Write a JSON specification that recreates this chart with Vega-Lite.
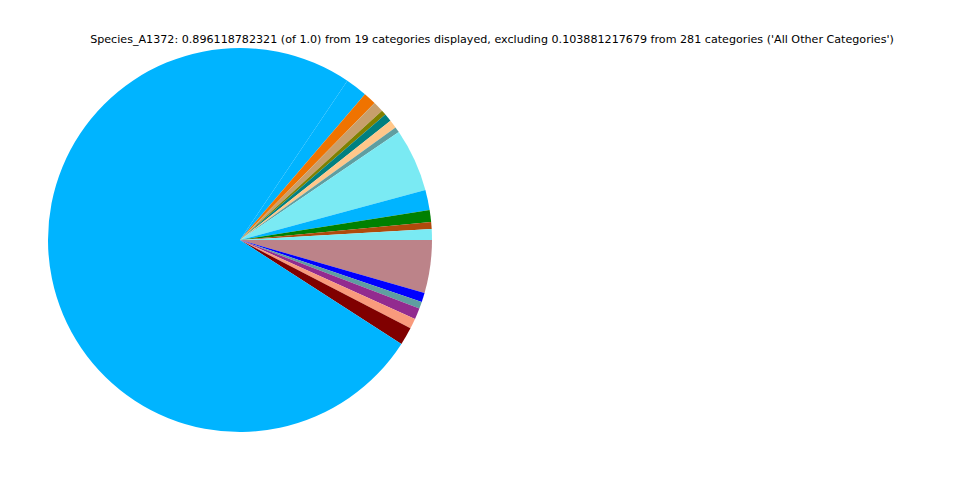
{
  "$schema": "https://vega.github.io/schema/vega-lite/v6.json",
  "width": 384,
  "height": 384,
  "autosize": {"type": "none"},
  "padding": {"left": 48, "top": 48, "right": 528, "bottom": 48},
  "background": "white",
  "config": {"view": {"stroke": null}},
  "title": {
    "text": "Species_A1372: 0.896118782321 (of 1.0) from 19 categories displayed, excluding 0.103881217679 from 281 categories ('All Other Categories')",
    "font": "DejaVu Sans",
    "fontSize": 11.13,
    "fontWeight": "normal",
    "color": "black",
    "anchor": "middle",
    "dx": 252,
    "offset": 3
  },
  "data": {
    "values": [
      {"k": 1, "cat": "c19", "v": 16.0},
      {"k": 2, "cat": "c18", "v": 2.8},
      {"k": 3, "cat": "c17", "v": 2.1},
      {"k": 4, "cat": "c16", "v": 3.4},
      {"k": 5, "cat": "c15", "v": 3.1},
      {"k": 6, "cat": "c14", "v": 5.4},
      {"k": 7, "cat": "c13", "v": 271.2},
      {"k": 8, "cat": "c12", "v": 6.6},
      {"k": 9, "cat": "c11", "v": 3.9},
      {"k": 10, "cat": "c10", "v": 3.2},
      {"k": 11, "cat": "c09", "v": 1.5},
      {"k": 12, "cat": "c08", "v": 2.4},
      {"k": 13, "cat": "c07", "v": 2.5},
      {"k": 14, "cat": "c06", "v": 1.7},
      {"k": 15, "cat": "c05", "v": 19.1},
      {"k": 16, "cat": "c04", "v": 6.1},
      {"k": 17, "cat": "c03", "v": 3.6},
      {"k": 18, "cat": "c02", "v": 2.1},
      {"k": 19, "cat": "c01", "v": 3.3}
    ]
  },
  "mark": {"type": "arc", "radius": 192},
  "encoding": {
    "theta": {"field": "v", "type": "quantitative", "stack": true, "scale": {"range": [1.5708, 7.854]}},
    "order": {"field": "k", "type": "quantitative"},
    "color": {
      "field": "cat",
      "type": "nominal",
      "legend": null,
      "scale": {
        "domain": ["c01","c02","c03","c04","c05","c06","c07","c08","c09","c10","c11","c12","c13","c14","c15","c16","c17","c18","c19"],
        "range": ["#7AEAF3","#B04A0C","#008000","#00B4FF","#7AEAF3","#5F9EA0","#FFC78A","#008080","#808000","#C79F6C","#F07300","#00B4FF","#00B4FF","#800000","#F99A7C","#922B8F","#5F9EA0","#0000FF","#BC8389"]
      }
    }
  }
}
